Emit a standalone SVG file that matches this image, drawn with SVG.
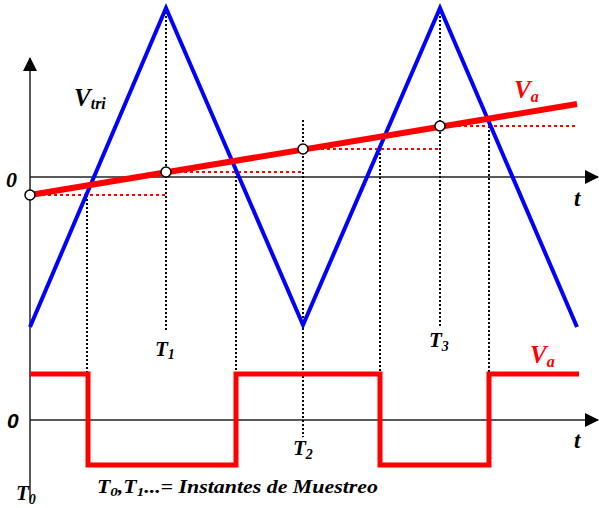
<svg xmlns="http://www.w3.org/2000/svg" width="599" height="508" viewBox="0 0 599 508">
<style>
.lbl{font-family:"Liberation Serif","Times New Roman",serif;font-weight:bold;font-style:italic;fill:#000}
.red{fill:#ff0000}
.dot{stroke:#000;stroke-width:2;stroke-dasharray:2 2;fill:none}
.rdot{stroke:#ff0000;stroke-width:2;stroke-dasharray:3 3;fill:none}
.axis{stroke:#222;stroke-width:1.5;fill:none}
.samp{fill:#fff;stroke:#000;stroke-width:1.5}
</style>
<defs>
<marker id="arrL" markerWidth="14" markerHeight="14" refX="13" refY="7" orient="auto" markerUnits="userSpaceOnUse" viewBox="0 0 14 14">
<path d="M0,0 L14,7 L0,14 z" fill="#000"/>
</marker>
</defs>
<g id="connectors">
<line class="axis" x1="30" y1="500" x2="30" y2="58" marker-end="url(#arrL)"/>
<line class="axis" x1="30" y1="177" x2="598" y2="177" marker-end="url(#arrL)"/>
<line class="axis" x1="30" y1="420" x2="598" y2="420" marker-end="url(#arrL)" stroke="#555"/>
<line class="dot" x1="166" y1="8" x2="166" y2="332"/>
<line class="dot" x1="303" y1="120" x2="303" y2="437"/>
<line class="dot" x1="440" y1="8" x2="440" y2="326"/>
<line class="dot" x1="87" y1="195" x2="87" y2="372"/>
<line class="dot" x1="236" y1="172" x2="236" y2="372"/>
<line class="dot" x1="380" y1="149" x2="380" y2="372"/>
<line class="dot" x1="489" y1="126" x2="489" y2="372"/>
<line class="rdot" x1="30" y1="195" x2="166" y2="195"/>
<line class="rdot" x1="166" y1="172" x2="303" y2="172"/>
<line class="rdot" x1="303" y1="149" x2="440" y2="149"/>
<line class="rdot" x1="440" y1="126" x2="577" y2="126"/>
</g>
<g id="triangle">
<polyline points="30,327 166,8 303,325 440,8 577,327" fill="none" stroke="#0000ff" stroke-width="4"/>
</g>
<g id="va-line">
<line x1="30" y1="195" x2="577" y2="104" stroke="#ff0000" stroke-width="6"/>
</g>
<g id="samples">
<circle class="samp" cx="30" cy="195" r="5"/>
<circle class="samp" cx="166" cy="172" r="5"/>
<circle class="samp" cx="303" cy="149" r="5"/>
<circle class="samp" cx="440" cy="126" r="5"/>
</g>
<g id="square-wave">
<polyline points="30,374 88,374 88,465 236,465 236,374 380,374 380,465 489,465 489,374 579,374" fill="none" stroke="#ff0000" stroke-width="5"/>
</g>
<g id="labels">
<text class="lbl" x="74" y="106" font-size="25">V<tspan font-size="16" dy="3">tri</tspan></text>
<text class="lbl" x="6" y="187" font-size="22">0</text>
<text class="lbl" x="574" y="206" font-size="23">t</text>
<text class="lbl red" x="514" y="98" font-size="25">V<tspan font-size="16" dy="4">a</tspan></text>
<text class="lbl" x="155" y="356" font-size="21">T<tspan font-size="14" dy="3">1</tspan></text>
<text class="lbl" x="429" y="347" font-size="21">T<tspan font-size="14" dy="4">3</tspan></text>
<text class="lbl" x="293" y="455" font-size="21">T<tspan font-size="14" dy="4">2</tspan></text>
<text class="lbl red" x="530" y="363" font-size="25">V<tspan font-size="16" dy="4">a</tspan></text>
<text x="7" y="428" font-size="21" font-family="Liberation Sans,Arial,sans-serif" font-weight="bold" font-style="italic">0</text>
<text class="lbl" x="574" y="448" font-size="23">t</text>
<text class="lbl" x="16" y="500" font-size="21">T<tspan font-size="14" dy="4">0</tspan></text>
<text class="lbl" x="97" y="493" font-size="19" textLength="281" lengthAdjust="spacingAndGlyphs">T<tspan font-size="13" dy="3">0</tspan><tspan dy="-3">,T</tspan><tspan font-size="13" dy="3">1</tspan><tspan dy="-3">...= Instantes de Muestreo</tspan></text>
</g>
</svg>
